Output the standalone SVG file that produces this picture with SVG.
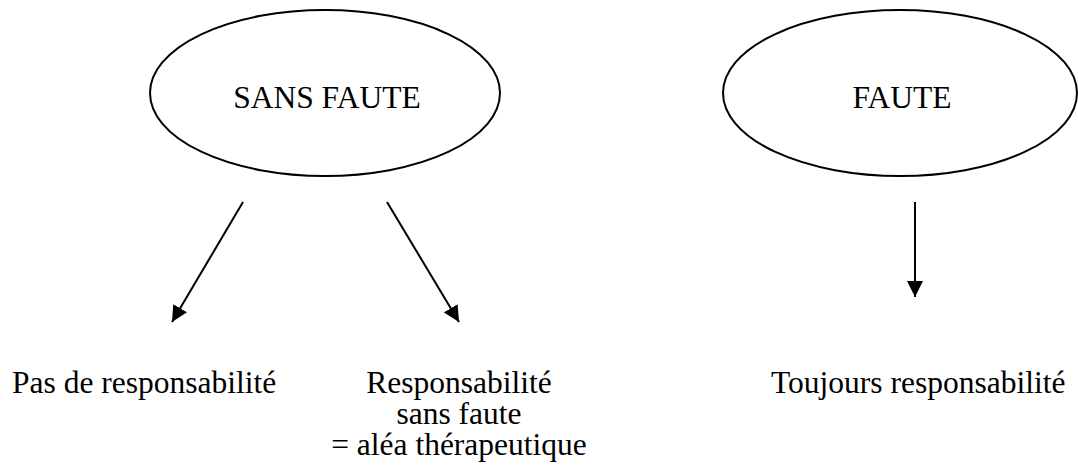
<svg xmlns="http://www.w3.org/2000/svg" width="1078" height="475" viewBox="0 0 1078 475">
<style>
.node ellipse{fill:#fff;stroke:#000;stroke-width:2}
text{font-family:"Liberation Serif","Times New Roman",serif;font-size:31.5px;fill:#000}
.conn line{stroke:#000;stroke-width:2}
</style>
<defs>
<marker id="a" viewBox="0 0 16 16" refX="16" refY="8" markerWidth="16" markerHeight="16" markerUnits="userSpaceOnUse" orient="auto">
<path d="M0,0 L16,8 L0,16 Z" fill="#000"/>
</marker>
</defs>
<rect width="1078" height="475" fill="#fff"/>
<g id="sans-faute" class="node">
<ellipse cx="325" cy="93" rx="175" ry="83"/>
<text x="327" y="108" text-anchor="middle">SANS FAUTE</text>
</g>
<g id="faute" class="node">
<ellipse cx="900" cy="93" rx="177" ry="83"/>
<text x="902" y="108" text-anchor="middle">FAUTE</text>
</g>
<g id="pas-resp" class="node">
<text x="12" y="393">Pas de responsabilité</text>
</g>
<g id="resp-sans-faute" class="node">
<text x="459" y="393" text-anchor="middle">Responsabilité</text>
<text x="459" y="424" text-anchor="middle">sans faute</text>
<text x="459" y="455" text-anchor="middle">= aléa thérapeutique</text>
</g>
<g id="toujours" class="node">
<text x="771" y="393">Toujours responsabilité</text>
</g>
<g id="connectors" class="conn">
<line x1="243" y1="202" x2="172" y2="322" marker-end="url(#a)"/>
<line x1="387" y1="202" x2="459" y2="322" marker-end="url(#a)"/>
<line x1="915" y1="202" x2="915" y2="297" marker-end="url(#a)"/>
</g>
</svg>
